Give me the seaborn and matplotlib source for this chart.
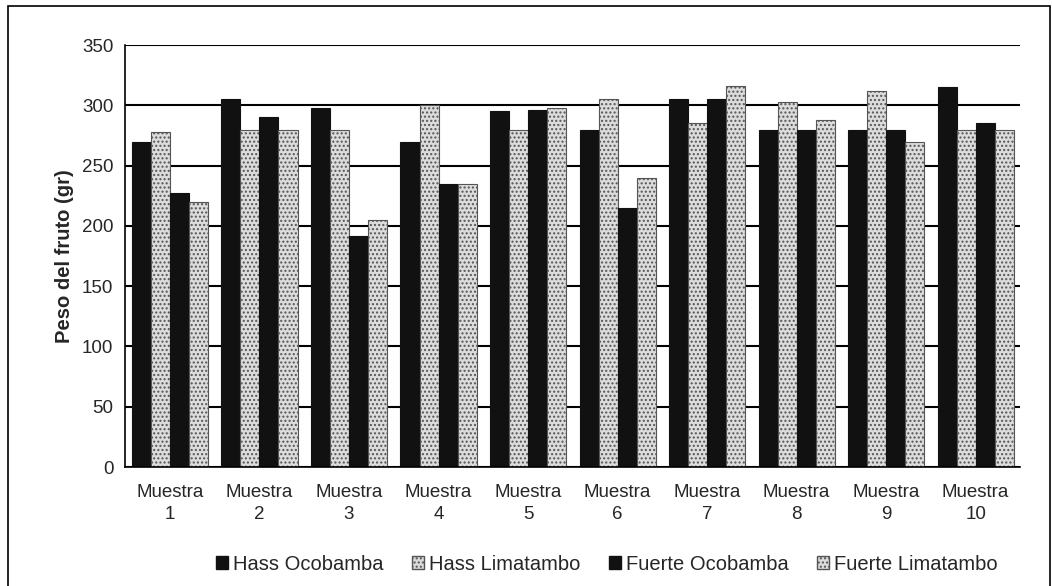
import pandas as pd
import numpy as np
import matplotlib.pyplot as plt
import seaborn as sns
from matplotlib.patches import Rectangle

muestras = ['Muestra\n1', 'Muestra\n2', 'Muestra\n3', 'Muestra\n4', 'Muestra\n5',
            'Muestra\n6', 'Muestra\n7', 'Muestra\n8', 'Muestra\n9', 'Muestra\n10']
hass_ocobamba = [270, 305, 298, 270, 295, 280, 305, 280, 280, 315]
hass_limatambo = [278, 280, 280, 300, 280, 305, 285, 303, 312, 280]
fuerte_ocobamba = [227, 290, 192, 235, 296, 215, 305, 280, 280, 285]
fuerte_limatambo = [220, 280, 205, 235, 298, 240, 316, 288, 270, 280]
series = ['Hass Ocobamba', 'Hass Limatambo', 'Fuerte Ocobamba', 'Fuerte Limatambo']
yticks = [0, 50, 100, 150, 200, 250, 300, 350]

rows = []
for name, vals in zip(series, [hass_ocobamba, hass_limatambo, fuerte_ocobamba, fuerte_limatambo]):
    for m, v in zip(muestras, vals):
        rows.append({'Muestra': m, 'Serie': name, 'Peso': v})
df = pd.DataFrame(rows)

sns.set_style('white')
plt.rcParams['font.family'] = ['Liberation Sans', 'DejaVu Sans']

fig, ax = plt.subplots(figsize=(10.52, 5.86), dpi=100)
fig.subplots_adjust(left=0.119, right=0.97, bottom=0.203, top=0.923)

pal = ['#111111', '#dcdcdc', '#111111', '#dcdcdc']
sns.barplot(data=df, x='Muestra', y='Peso', hue='Serie', palette=pal,
            width=0.85, ax=ax, edgecolor='#111111', linewidth=0.8, legend=False)

# stipple for the light bars
for i, cont in enumerate(ax.containers):
    if i % 2 == 1:
        for bar in cont:
            bar.set_hatch('....')
            bar.set_edgecolor('#555555')

ax.set_ylim(0, 350)
ax.set_yticks(yticks)
ax.yaxis.grid(True, color='black', linewidth=1.5)
ax.set_axisbelow(True)
ax.set_xlabel('')
ax.set_ylabel('Peso del fruto (gr)', fontsize=14.5, fontweight='bold', labelpad=6)
ax.tick_params(axis='y', labelsize=13.5, length=5, color='black')
ax.tick_params(axis='x', labelsize=13.5, length=0, pad=12)
for lab in ax.get_xticklabels():
    lab.set_linespacing(1.4)
for s in ['top', 'right']:
    ax.spines[s].set_visible(False)
for s in ['left', 'bottom']:
    ax.spines[s].set_color('black')
    ax.spines[s].set_linewidth(1.2)

handles = [Rectangle((0, 0), 1, 1, facecolor='#111111', edgecolor='#111111'),
           Rectangle((0, 0), 1, 1, facecolor='#dcdcdc', edgecolor='#555555', hatch='....'),
           Rectangle((0, 0), 1, 1, facecolor='#111111', edgecolor='#111111'),
           Rectangle((0, 0), 1, 1, facecolor='#dcdcdc', edgecolor='#555555', hatch='....')]
fig.legend(handles, series, loc='lower center', bbox_to_anchor=(0.577, -0.01), ncol=4,
           frameon=False, fontsize=14.5, handlelength=0.6, handleheight=0.6,
           handletextpad=0.25, columnspacing=1.4)

fig.patches.append(Rectangle((0.008, -0.01), 0.99, 1.0, transform=fig.transFigure,
                             fill=False, edgecolor='black', linewidth=1.2))

plt.savefig('out.png', dpi=100)
